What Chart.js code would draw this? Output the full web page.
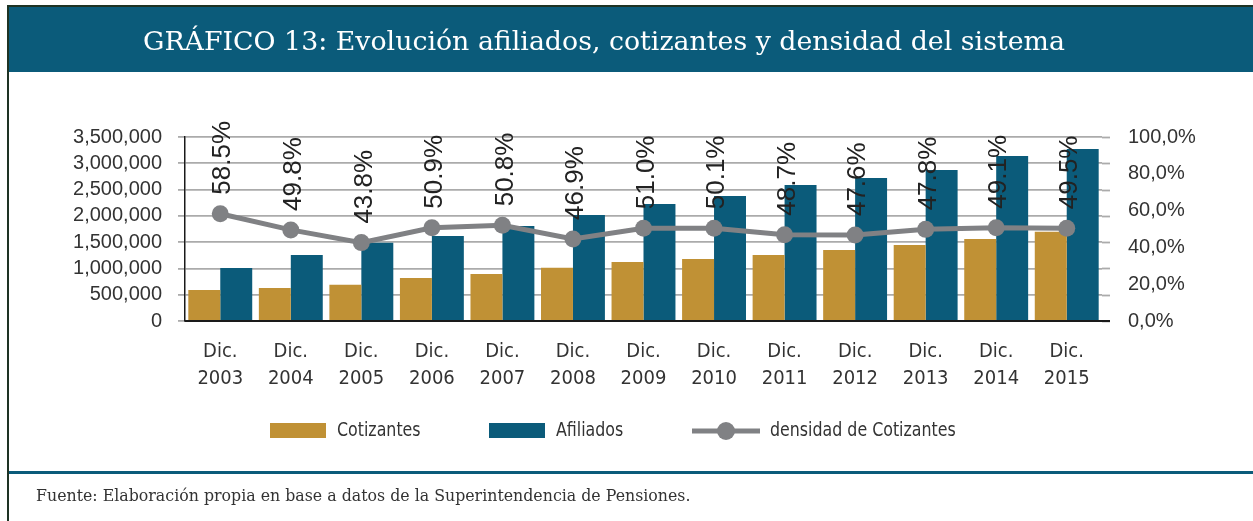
<!DOCTYPE html>
<html>
<head>
<meta charset="utf-8">
<script src="https://cdn.jsdelivr.net/npm/chart.js@4/dist/chart.umd.min.js"></script>
<style>
  html, body { margin: 0; padding: 0; background: #ffffff; }
  body { width: 1253px; height: 521px; position: relative; overflow: hidden; }
  #frameTop { position: absolute; left: 7px; top: 5px; width: 1246px; height: 2px; background: #1e3324; }
  #frameLeft { position: absolute; left: 7px; top: 5px; width: 2px; height: 516px; background: #1e3324; }
  #header { position: absolute; left: 9px; top: 7px; width: 1244px; height: 65px; background: #0b5b7a; }
  #title { position: absolute; left: 134px; top: 1px; height: 65px; line-height: 65px; color: #ffffff;
           font-family: 'DejaVu Serif', 'Liberation Serif', serif; font-size: 26.8px; white-space: nowrap; }
  #footLine { position: absolute; left: 9px; top: 471px; width: 1244px; height: 3px; background: #0b5b7a; }
  #foot { position: absolute; left: 36px; top: 486px; color: #333333; white-space: nowrap;
          font-family: 'DejaVu Serif', 'Liberation Serif', serif; font-size: 15.8px; }
  canvas { position: absolute; left: 0; top: 0; }
</style>
</head>
<body>
<canvas id="c" width="1253" height="521"></canvas>
<div id="frameTop"></div>
<div id="frameLeft"></div>
<div id="header"><div id="title">GRÁFICO 13: Evolución afiliados, cotizantes y densidad del sistema</div></div>
<div id="footLine"></div>
<div id="foot">Fuente: Elaboración propia en base a datos de la Superintendencia de Pensiones.</div>
<script>
// ---- data ----
const anios = ['2003','2004','2005','2006','2007','2008','2009','2010','2011','2012','2013','2014','2015'];
const cotizantes = [590000, 628000, 690000, 818000, 894000, 1014000, 1122000, 1179000, 1255000, 1350000, 1446000, 1560000, 1699000];
const afiliados  = [1008000, 1255000, 1490000, 1617000, 1807000, 2016000, 2226000, 2378000, 2587000, 2720000, 2872000, 3139000, 3272000];
const densidad   = [58.3, 49.5, 42.6, 50.7, 52.0, 44.6, 50.4, 50.4, 46.9, 46.7, 49.8, 50.7, 50.4];
const densidadEtiquetas = ['58.5%','49.8%','43.8%','50.9%','50.8%','46.9%','51.0%','50.1%','48.7%','47.6%','47.8%','49.1%','49.5%'];
const ticksIzq = [0, 500000, 1000000, 1500000, 2000000, 2500000, 3000000, 3500000];
const ticksDer = [0, 20, 40, 60, 80, 100];

const GOLD = '#c09135';
const TEAL = '#0b5b7a';
const GRAY = '#808184';
const GRID = '#ababab';
const NARROW = '"Liberation Sans Narrow", "DejaVu Sans Condensed", sans-serif';

const etiquetas = anios.map(a => ['Dic.', a]);

const extrasPlugin = {
  id: 'extras',
  beforeDatasetsDraw(chart) {
    const ctx = chart.ctx, a = chart.chartArea, y = chart.scales.y;
    ctx.save();
    ctx.strokeStyle = GRID; ctx.lineWidth = 1.8;
    y.ticks.forEach(t => {
      const py = Math.round(y.getPixelForValue(t.value)) + 0.5;
      ctx.beginPath(); ctx.moveTo(a.right, py); ctx.lineTo(a.right + 8, py); ctx.stroke();
    });
    ctx.restore();
  },
  afterDatasetsDraw(chart) {
    const ctx = chart.ctx, a = chart.chartArea;
    ctx.save();
    // bottom axis line
    ctx.strokeStyle = '#1a1a1a'; ctx.lineWidth = 2;
    ctx.beginPath(); ctx.moveTo(a.left, a.bottom); ctx.lineTo(a.right + 8, a.bottom); ctx.stroke();
    // rotated value labels
    const meta = chart.getDatasetMeta(2);
    ctx.fillStyle = '#222222';
    ctx.font = '26px "Liberation Sans", Arial, sans-serif';
    ctx.textAlign = 'left'; ctx.textBaseline = 'middle';
    meta.data.forEach((pt, i) => {
      ctx.save();
      ctx.translate(pt.x + 3, pt.y - 19);
      ctx.rotate(-Math.PI / 2);
      ctx.fillText(densidadEtiquetas[i], 0, 0);
      ctx.restore();
    });
    // legend
    const ds = chart.data.datasets;
    const ly = 431;
    ctx.font = '20px ' + NARROW;
    ctx.textBaseline = 'middle'; ctx.textAlign = 'left';
    const txt = (s, x) => {
      ctx.save(); ctx.translate(x, ly); ctx.scale(0.88, 1);
      ctx.fillStyle = '#333333'; ctx.fillText(s, 0, 0); ctx.restore();
    };
    const items = [
      { x: 270, type: 'box', ds: ds[0] },
      { x: 489, type: 'box', ds: ds[1] },
      { x: 692, type: 'line', ds: ds[2] }
    ];
    items.forEach(it => {
      if (it.type === 'box') {
        ctx.fillStyle = it.ds.backgroundColor;
        ctx.fillRect(it.x, ly - 8, 56, 15);
        txt(it.ds.label, it.x + 67);
      } else {
        ctx.strokeStyle = it.ds.borderColor; ctx.lineWidth = 5;
        ctx.beginPath(); ctx.moveTo(it.x, ly); ctx.lineTo(it.x + 68, ly); ctx.stroke();
        ctx.fillStyle = it.ds.pointBackgroundColor;
        ctx.beginPath(); ctx.arc(it.x + 34, ly, 9, 0, Math.PI * 2); ctx.fill();
        txt(it.ds.label, it.x + 78);
      }
    });
    ctx.restore();
  }
};

new Chart(document.getElementById('c'), {
  data: {
    labels: etiquetas,
    datasets: [
      { type: 'bar', label: 'Cotizantes', data: cotizantes, backgroundColor: GOLD, yAxisID: 'y', order: 2,
        categoryPercentage: 0.906, barPercentage: 1.0 },
      { type: 'bar', label: 'Afiliados', data: afiliados, backgroundColor: TEAL, yAxisID: 'y', order: 2,
        categoryPercentage: 0.906, barPercentage: 1.0 },
      { type: 'line', label: 'densidad de Cotizantes', data: densidad, yAxisID: 'y1', order: 1,
        borderColor: GRAY, borderWidth: 5, pointRadius: 8.5, pointBackgroundColor: GRAY,
        pointBorderWidth: 0, pointHoverRadius: 8.5, tension: 0, clip: false }
    ]
  },
  options: {
    responsive: false,
    animation: false,
    devicePixelRatio: 1,
    layout: { padding: { top: 137, left: 0, right: 0, bottom: 0 } },
    plugins: { legend: { display: false }, tooltip: { enabled: false } },
    scales: {
      x: {
        grid: { display: false, drawTicks: false },
        border: { display: false },
        ticks: { color: '#333333', padding: 17, maxRotation: 0, autoSkip: false,
                 font: { family: NARROW, size: 20, lineHeight: 1.35 } },
        afterFit(s) { s.height = 200; }
      },
      y: {
        position: 'left', min: 0, max: 3500000,
        afterBuildTicks(s) { s.ticks = ticksIzq.map(v => ({ value: v })); },
        grid: { color: GRID, lineWidth: 1.8, tickLength: 7, drawTicks: true },
        border: { display: true, color: '#1a1a1a', width: 1.5 },
        ticks: { color: '#333333', padding: 16, autoSkip: false,
                 font: { family: '"Liberation Sans", Arial, sans-serif', size: 20 },
                 callback: v => v.toLocaleString('en-US') },
        afterFit(s) { s.width = 185; }
      },
      y1: {
        position: 'right', min: 0, max: 100,
        afterBuildTicks(s) { s.ticks = ticksDer.map(v => ({ value: v })); },
        grid: { display: false, drawTicks: false },
        border: { display: false },
        ticks: { color: '#333333', padding: 26, autoSkip: false,
                 font: { family: '"Liberation Sans", Arial, sans-serif', size: 20 },
                 callback: v => v + ',0%' },
        afterFit(s) { s.width = 151; }
      }
    }
  },
  plugins: [extrasPlugin]
});
</script>
</body>
</html>
